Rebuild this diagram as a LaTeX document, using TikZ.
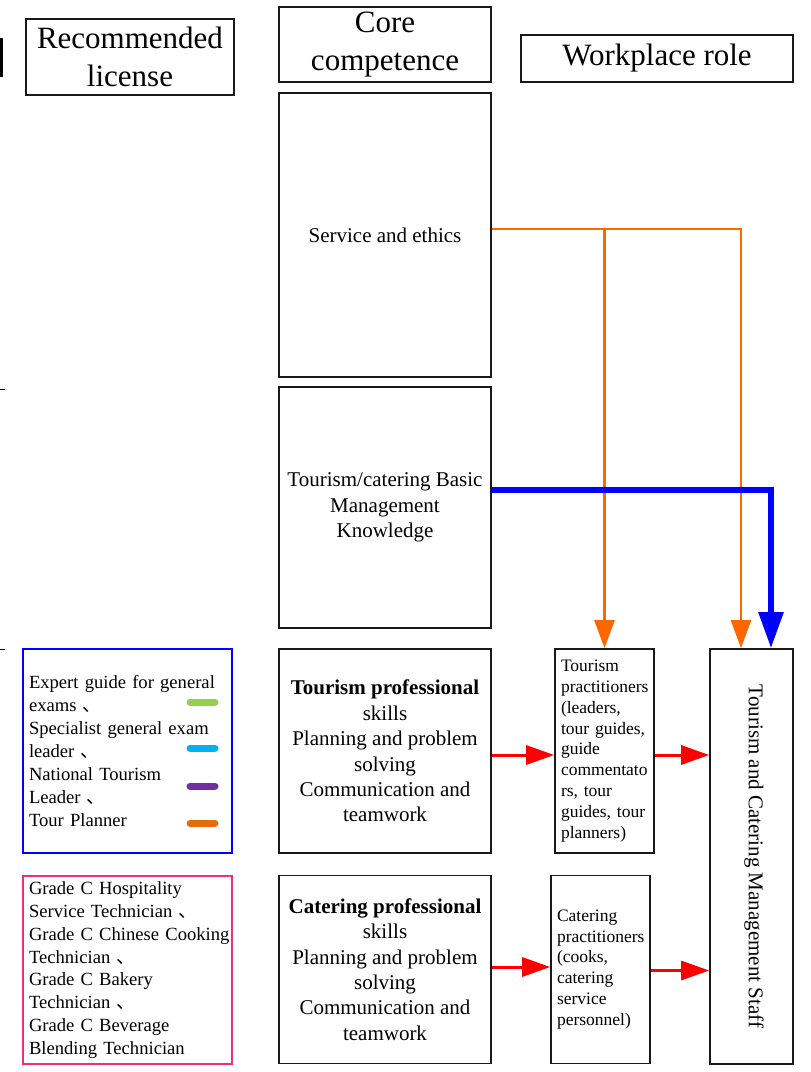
\documentclass[tikz,border=0pt]{standalone}
\usepackage{fontspec}
\setmainfont{Liberation Serif}
\newfontfamily\cjk{Noto Sans CJK SC}
\usetikzlibrary{arrows.meta}

\newcommand\hdsize{\fontsize{31}{37.5}\selectfont}
\newcommand\bdsize{\fontsize{21}{25.4}\selectfont}
\newcommand\lgsize{\fontsize{18.6}{22.9}\selectfont}
\newcommand\prsize{\fontsize{17.5}{20.9}\selectfont}
\newcommand\dun{{\cjk 、}}

\definecolor{lineorange}{RGB}{255,102,0}
\definecolor{lgreen}{RGB}{146,208,80}
\definecolor{lcyan}{RGB}{0,176,240}
\definecolor{lpurple}{RGB}{112,48,160}
\definecolor{lorange}{RGB}{228,108,10}
\definecolor{lpink}{RGB}{236,50,115}

\tikzset{
  box/.style={draw=black!90, line width=1.6pt, inner sep=0pt, align=center, font=\bdsize},
  listbox/.style={draw, inner xsep=6pt, inner ysep=0pt, align=left, font=\lgsize},
  pracbox/.style={box, inner xsep=6pt, align=left, font=\prsize},
  oarrow/.style={draw=lineorange, line width=2.4pt, -{Triangle[length=28pt,width=20pt]}},
  barrow/.style={draw=blue, line width=5.5pt, -{Triangle[length=36pt,width=24pt]}},
  rarrow/.style={draw=red, line width=3pt, -{Triangle[length=28pt,width=19pt]}},
  legbar/.style={line width=7pt, line cap=round}
}

\begin{document}
\begin{tikzpicture}[x=1pt,y=-1pt]
    \useasboundingbox (0,0) rectangle (811,1072);

    \draw[line width=2.5pt] (1.3,38) -- (1.3,77);
    \draw[line width=1pt] (0,389) -- (5,389);
    \draw[line width=1pt] (0,649) -- (5,649);

    \node[box, font=\hdsize, minimum width=208pt, minimum height=76pt] (lic) at (130,57) {Recommended\\license};
    \node[box, font=\hdsize, minimum width=212pt, minimum height=75pt] (core) at (385,44.5) {Core\\competence};
    \node[box, font=\hdsize, minimum width=272pt, minimum height=47pt] (role) at (657,58.5) {Workplace role};

    \node[box, minimum width=212pt, minimum height=284pt] (svc) at (385,235) {Service and ethics};
    \node[box, minimum width=212pt, minimum height=241pt] (basic) at (385,507.5) {Tourism/catering Basic\\Management\\Knowledge};
    \node[box, minimum width=212pt, minimum height=204pt] (tprof) at (385,751) {\textbf{Tourism professional}\\skills\\Planning and problem\\solving\\Communication and\\teamwork};
    \node[box, minimum width=212pt, minimum height=188pt] (cprof) at (385,969.5) {\textbf{Catering professional}\\skills\\Planning and problem\\solving\\Communication and\\teamwork};

    \node[pracbox, text width=87pt, minimum width=99pt, minimum height=204pt] (tprac) at (604.5,751) {Tourism\\practitioners\\(leaders,\\tour guides,\\guide\\commentato\\rs, tour\\guides, tour\\planners)};
    \node[pracbox, text width=87pt, minimum width=99pt, minimum height=188pt] (cprac) at (600.5,969.5) {Catering\\practitioners\\(cooks,\\catering\\service\\personnel)};
    \node[box, minimum width=83pt, minimum height=415pt] (mgmt) at (751.5,856.5) {\hspace{5pt}\rotatebox{-90}{Tourism and Catering Management Staff}};

    \node[listbox, draw=blue, line width=1.2pt, text width=197pt, minimum width=209pt, minimum height=204pt] (tlic) at (127.5,751) {Expert guide for general\\exams \dun\\Specialist general exam\\leader \dun\\National Tourism\\Leader \dun\\Tour Planner};
    \node[listbox, draw=lpink, line width=1.5pt, text width=197pt, minimum width=209pt, minimum height=188pt] (clic) at (127.5,970) {Grade C Hospitality\\Service Technician \dun\\\mbox{Grade C Chinese Cooking}\\Technician \dun\\Grade C Bakery\\Technician \dun\\Grade C Beverage\\Blending Technician};

    \foreach \c/\y in {lgreen/702, lcyan/748, lpurple/786, lorange/823}
        \draw[legbar, \c] (190,\y) -- (215,\y);

    \coordinate (oj) at ([yshift=6pt]svc.east);
    \draw[oarrow] (oj) -| ([xshift=-10.5pt]mgmt.north);
    \draw[oarrow] (oj -| tprac.north) -- (tprac.north);

    \coordinate (bj) at ([yshift=17.5pt]basic.east);
    \draw[barrow] (bj) -| ([xshift=19.5pt]mgmt.north);

    \coordinate (ta) at ([yshift=-4pt]tprof.east);
    \coordinate (tb) at ([yshift=-4pt]tprac.east);
    \coordinate (ca) at ([yshift=2.5pt]cprof.east);
    \coordinate (cb) at ([yshift=-1pt]cprac.east);
    \draw[rarrow] (ta) -- (ta -| tprac.west);
    \draw[rarrow] (tb) -- (tb -| mgmt.west);
    \draw[rarrow] (ca) -- (ca -| cprac.west);
    \draw[rarrow] (cb) -- (cb -| mgmt.west);
\end{tikzpicture}
\end{document}
